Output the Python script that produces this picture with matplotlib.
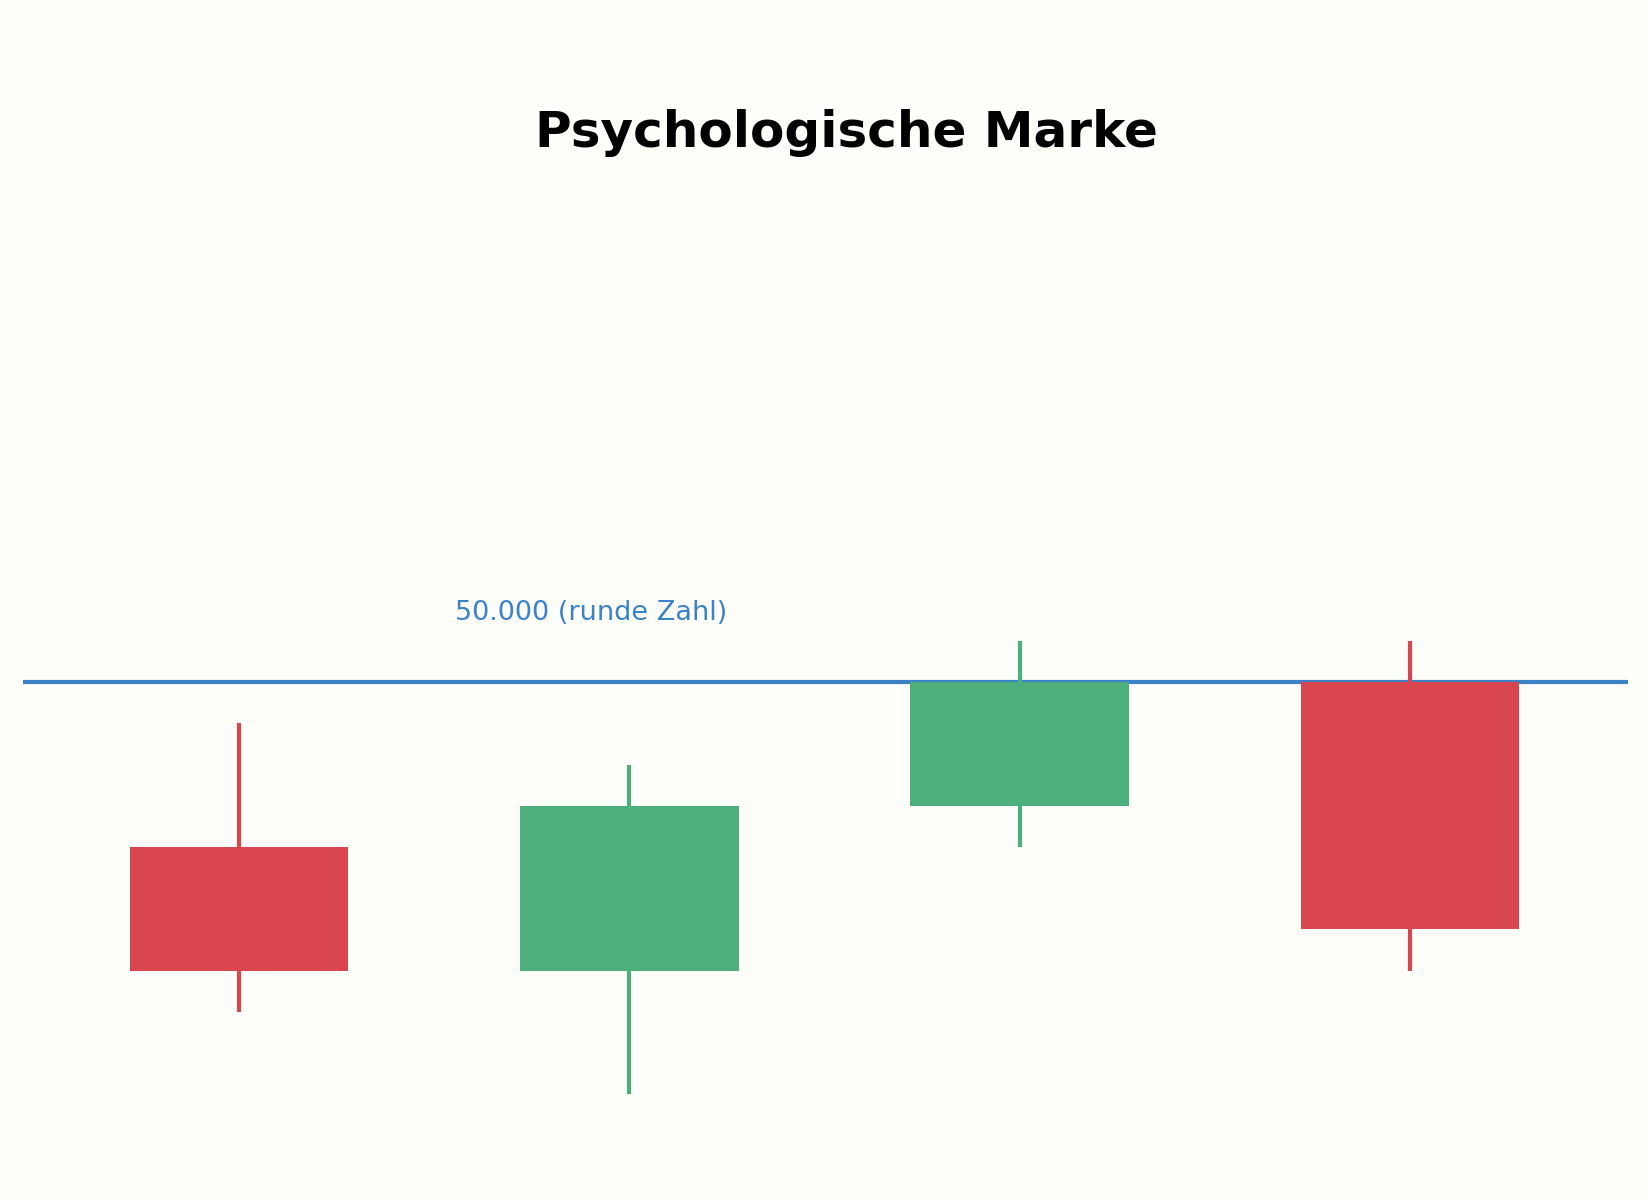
import matplotlib.pyplot as plt

# Kerzen-Daten (Preis)
candles = [0, 1, 2, 3]
opens = [49600, 49300, 49700, 50000]
closes = [49300, 49700, 50000, 49400]
highs = [49900, 49800, 50100, 50100]
lows = [49200, 49000, 49600, 49300]
level = 50000
level_label = "50.000 (runde Zahl)"
title = "Psychologische Marke"

bg = "#fdfdf9"
up_col = "#4daf7c"
down_col = "#d94650"
line_col = "#3b82c8"

fig = plt.figure(figsize=(11, 8), dpi=150, facecolor=bg)
ax = fig.add_axes([0.014, 0.0, 0.9726, 1.0])
ax.set_facecolor(bg)

ax.axhline(level, color=line_col, linewidth=2, zorder=1)

for i in candles:
    o, c = opens[i], closes[i]
    col = up_col if c >= o else down_col
    ax.vlines(i, lows[i], highs[i], color=col, linewidth=2, zorder=2)
    ax.bar(i, abs(c - o), bottom=min(o, c), width=0.56, color=col, zorder=3)

ax.text(0.903, level + 168, level_label, color=line_col, fontsize=13,
        ha="center", va="center")

ax.set_xlim(-0.553, 3.558)
ax.set_ylim(48744, 51654)
ax.axis("off")

fig.text(0.513, 0.889, title, fontsize=24, fontweight="bold",
         ha="center", va="center")

fig.savefig("out.png", dpi=150, facecolor=bg)
